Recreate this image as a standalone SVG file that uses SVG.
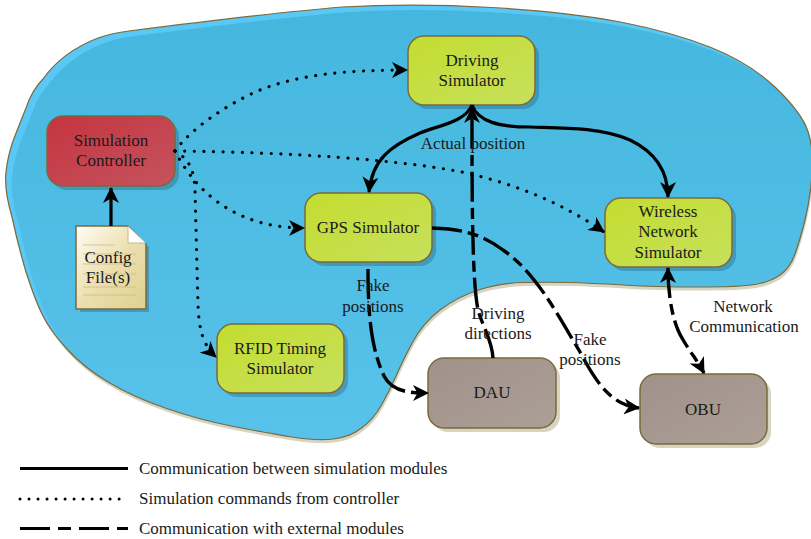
<svg xmlns="http://www.w3.org/2000/svg" width="811" height="539" viewBox="0 0 811 539">
<style>
text{font-family:"Liberation Serif","Times New Roman",serif;font-size:17px;fill:#1a1a1a;text-anchor:middle}
.box{stroke:#7a6a3c;stroke-width:1.5}
.sh{fill:#1d4a5c;opacity:.3}
.c{fill:none;stroke:#000}
.s{stroke-width:3.2}
.d{stroke-width:3.2;stroke-dasharray:.01 9.6;stroke-linecap:round}
.x{stroke-width:3.4;stroke-dasharray:30 6 11 6}
.l{text-anchor:start}
</style>
<defs>
<path id="blob" d="M12 217Q4 190 6 172Q8 155 13 141Q18 128 26 108Q32 90 43 79Q62 52 98 38Q112 33 129 31Q270 13 342 7Q414 3 491.500 7.500Q569 12 620.500 22Q672 32 711 47.500Q750 63 776 88Q802 113 808 131.500Q814 150 812 175Q810 200 805 220Q800 240 795 254Q790 268 780 275Q770 282 755 284.500Q740 287 698.500 287Q657 287 623.500 285Q590 283 568.500 282.500Q547 282 523.500 282.500Q500 283 478.500 290Q457 297 440 310Q423 323 413 341.500Q403 360 396.500 375Q390 390 381.500 405Q373 420 361.500 428Q350 437 333.500 439Q317 441 292 437Q267 433 233.500 426.500Q200 420 166.500 408.500Q133 397 108 382Q83 367 66.500 348.500Q50 330 42.500 315Q35 300 26 272Q18 245 12 217Z"/>
<clipPath id="bc"><use href="#blob"/></clipPath>
<linearGradient id="g" x1="0" y1="0" x2="1" y2="1"><stop offset="0" stop-color="#c3dd2f"/><stop offset="1" stop-color="#c8e05c"/></linearGradient>
<linearGradient id="r" x1="0" y1="0" x2="1" y2="1"><stop offset="0" stop-color="#c5343f"/><stop offset="1" stop-color="#c4545f"/></linearGradient>
<linearGradient id="b" x1="0" y1="0" x2="1" y2="1"><stop offset="0" stop-color="#a0928a"/><stop offset="1" stop-color="#ac9f96"/></linearGradient>
<linearGradient id="w" x1="0" y1="0" x2="0" y2="1"><stop offset="0" stop-color="#45b7de"/><stop offset="1" stop-color="#58c2ea"/></linearGradient>
<linearGradient id="p" x1="0" y1="0" x2="1" y2="1"><stop offset="0" stop-color="#fffdf4"/><stop offset=".5" stop-color="#ecdfb0"/><stop offset="1" stop-color="#dfd08e"/></linearGradient>
<marker id="a" viewBox="0 0 16 16" refX="15" refY="8" markerWidth="16" markerHeight="16" markerUnits="userSpaceOnUse" orient="auto-start-reverse"><path d="M0 0L16 8L0 16L4.500 8Z" fill="#000"/></marker>
</defs>
<g id="region">
<use href="#blob" fill="#d8d4c2" transform="translate(1,3.500)"/>
<use href="#blob" fill="#5ac8f7"/>
<g clip-path="url(#bc)"><use href="#blob" fill="url(#w)" transform="translate(6,5)"/></g>
<use href="#blob" fill="none" stroke="#7a6a3c" stroke-width="1.2"/>
</g>
<g id="driving-simulator"><rect class="sh" x="412" y="40" width="127" height="69" rx="16"/><rect class="box" x="408" y="36" width="127" height="69" rx="16" fill="url(#g)"/><text x="472" y="66">Driving</text><text x="472" y="86">Simulator</text></g>
<g id="simulation-controller"><rect class="sh" x="51" y="120" width="128" height="70" rx="16"/><rect class="box" x="47" y="116" width="128" height="70" rx="16" fill="url(#r)"/><text x="111" y="146">Simulation</text><text x="111" y="166">Controller</text></g>
<g id="gps-simulator"><rect class="sh" x="309" y="197" width="127" height="69" rx="16"/><rect class="box" x="305" y="193" width="127" height="69" rx="16" fill="url(#g)"/><text x="368" y="233">GPS Simulator</text></g>
<g id="wireless-simulator"><rect class="sh" x="609" y="202" width="127" height="69" rx="16"/><rect class="box" x="605" y="198" width="127" height="69" rx="16" fill="url(#g)"/><text x="668" y="217">Wireless</text><text x="668" y="237">Network</text><text x="668" y="258">Simulator</text></g>
<g id="rfid-simulator"><rect class="sh" x="221" y="328" width="127" height="69" rx="16"/><rect class="box" x="217" y="324" width="127" height="69" rx="16" fill="url(#g)"/><text x="280" y="354">RFID Timing</text><text x="280" y="374">Simulator</text></g>
<g id="dau"><rect x="432" y="362" width="128" height="70" rx="16" fill="#d8d4c2"/><rect class="box" x="428" y="358" width="128" height="70" rx="16" fill="url(#b)"/><text x="492" y="398">DAU</text></g>
<g id="obu"><rect x="644" y="378" width="127" height="70" rx="16" fill="#d8d4c2"/><rect class="box" x="640" y="374" width="127" height="70" rx="16" fill="url(#b)"/><text x="703" y="415">OBU</text></g>
<g id="config-file">
<path class="sh" d="M80 230H130L149 247V312H80Z"/>
<path d="M76 226H128L146 244V309H76Z" fill="url(#p)" stroke="#7a6a3c" stroke-width="1.5"/>
<path d="M128 226V243H146Z" fill="#fff" stroke="#b9ad80" stroke-width=".8"/>
<path d="M83 245H115M83 254H136M83 264H136M83 274H136M83 287H136M83 295H136" stroke="#cbbb86" stroke-width=".8" fill="none"/>
<text x="108" y="263">Config</text><text x="108" y="283">File(s)</text>
</g>
<g id="connectors">
<path class="c s" marker-end="url(#a)" d="M111 226V188"/>
<path class="c d" marker-end="url(#a)" d="M175 151C190 130 225 105 260 90C300 74 350 70 407 70"/>
<path class="c d" marker-end="url(#a)" d="M175 151C190 180 225 228 304 228"/>
<path class="c d" marker-end="url(#a)" d="M175 151C190 160 194 170 195 190L198 305C199 330 203 345 216 357"/>
<path class="c d" marker-end="url(#a)" d="M175 151C290 152 400 160 462 172C520 185 565 205 604 232"/>
<path class="c s" marker-end="url(#a)" d="M472 105C465 122 440 125 420 133C390 146 372 160 369 192"/>
<path class="c s" marker-end="url(#a)" d="M472 105C478 122 500 127 530 127C560 128 600 127 630 140C655 152 668 170 668 197"/>
<path class="c x" marker-end="url(#a)" d="M493 358C492 340 482 325 478 310C472 280 472 200 472 108"/>
<path class="c x" marker-end="url(#a)" d="M368 269C368 320 372 350 384 376C392 392 410 393 428 393"/>
<path class="c x" marker-end="url(#a)" d="M432 228C460 229 480 233 503 250C535 272 555 310 580 352C595 380 610 405 639 408"/>
<path class="c x" marker-start="url(#a)" marker-end="url(#a)" d="M668 268C668 300 674 325 682 338C690 352 697 360 704 373"/>
</g>
<g id="labels">
<text x="473" y="149">Actual position</text>
<text x="373" y="291">Fake</text><text x="373" y="312">positions</text>
<text x="498" y="319">Driving</text><text x="498" y="339">directions</text>
<text x="590" y="345">Fake</text><text x="590" y="365">positions</text>
<text x="743" y="312">Network</text><text x="744" y="332">Communication</text>
</g>
<g id="legend">
<path d="M20 468.500H128" stroke="#000" stroke-width="3"/>
<path d="M20 499H128" stroke="#000" stroke-width="3" stroke-dasharray=".01 9" stroke-linecap="round"/>
<path d="M20 528.500H128" stroke="#000" stroke-width="3" stroke-dasharray="30 8 13 8"/>
<text x="139" y="474" class="l">Communication between simulation modules</text>
<text x="139" y="504" class="l">Simulation commands from controller</text>
<text x="139" y="534" class="l">Communication with external modules</text>
</g>
</svg>
